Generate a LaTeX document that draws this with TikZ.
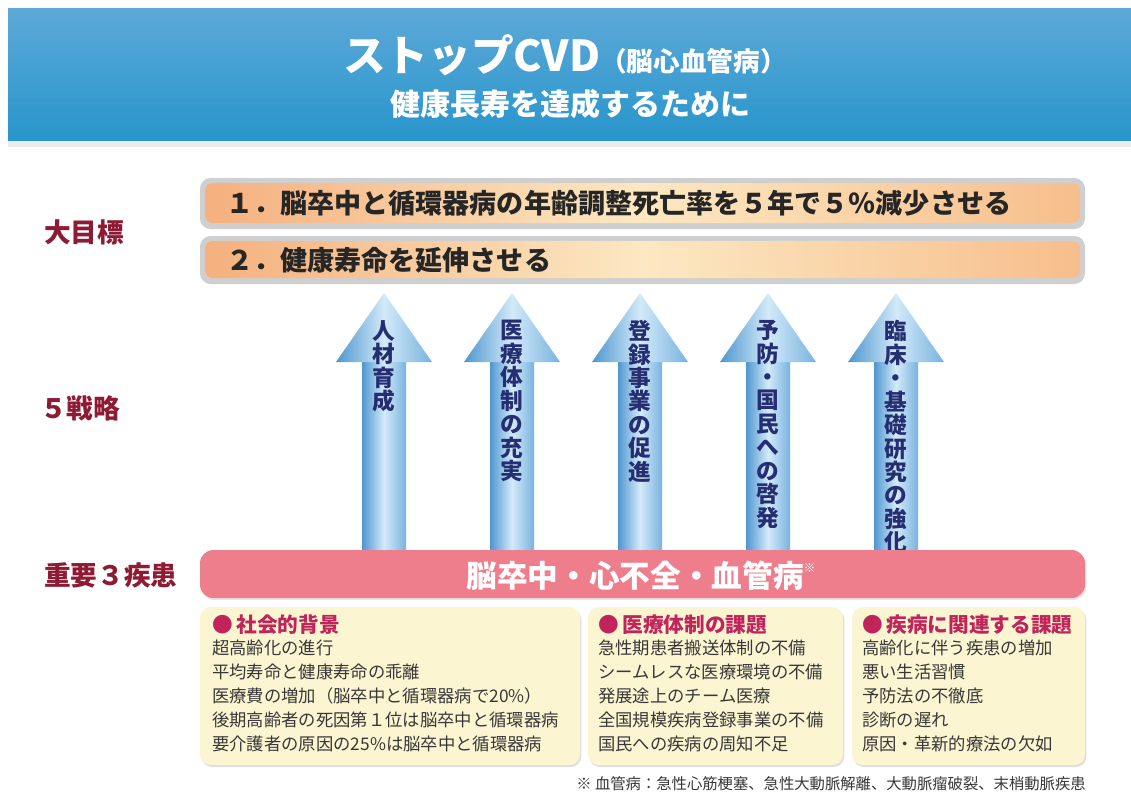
\documentclass[tikz,border=0pt]{standalone}
\usepackage{fontspec}
\setmainfont{Noto Sans CJK JP}
\usetikzlibrary{shadows}
\definecolor{hdtop}{HTML}{5DA9D8}
\definecolor{hdbot}{HTML}{2895CB}
\definecolor{labred}{HTML}{8E1B33}
\definecolor{navy}{HTML}{262E72}
\definecolor{pinkc}{HTML}{EE7E8B}
\definecolor{cream}{HTML}{FCF5D2}
\definecolor{headmag}{HTML}{C0245A}
\definecolor{itemc}{HTML}{383838}
\definecolor{goalgray}{HTML}{CFCFCF}
\definecolor{or1}{HTML}{F5B07E}
\definecolor{or2}{HTML}{FCE8C2}
\definecolor{or3}{HTML}{F7BE8C}
\definecolor{ar1}{HTML}{4F96D0}
\definecolor{ar2}{HTML}{D3EAF9}
\definecolor{ar3}{HTML}{78B3E0}
\begin{document}
\begin{tikzpicture}[x=0.75pt,y=-0.75pt,
  lab/.style={anchor=west,inner sep=0,text=labred,font=\fontsize{20}{22}\selectfont\bfseries},
  goaltxt/.style={anchor=west,inner sep=0,text=black!85,font=\fontsize{20.3}{22}\selectfont\bfseries},
  vtxt/.style={anchor=north,inner sep=0,align=center,text=navy,font=\fontsize{17}{17.6}\selectfont\bfseries},
  boxhead/.style={anchor=west,inner sep=0,text=headmag,font=\fontsize{15.5}{17}\selectfont\bfseries},
  items/.style={anchor=north west,inner sep=0,align=left,text=itemc,font=\fontsize{13}{18}\selectfont},
  crbox/.style={fill=cream,rounded corners=8,drop shadow={opacity=0.25,shadow xshift=1pt,shadow yshift=-1.5pt}}
]
\useasboundingbox (0,0) rectangle (1131,793);
\fill[white] (0,0) rectangle (1131,793);
% header
\fill[black!8] (8,140) rectangle (1131,147);
\shade[top color=hdtop,bottom color=hdbot] (8,8) rectangle (1131,140);
\node[inner sep=0,text=white,font=\fontsize{32}{34}\selectfont\bfseries] (title) at (565,55)
  {ストップCVD{\fontsize{20}{22}\selectfont （脳心血管病）}};
\node[inner sep=0,text=white,font=\fontsize{22.5}{25}\selectfont\bfseries] (sub) at (570,104)
  {健康長寿を達成するために};
% goals
\fill[goalgray,rounded corners=8] (200,178) rectangle (1085,229);
\shade[left color=or1,right color=or3,middle color=or2,rounded corners=6] (205,183) rectangle (1080,223);
\node[goaltxt] (g1) at (226,203) {１．脳卒中と循環器病の年齢調整死亡率を５年で５％減少させる};
\fill[goalgray,rounded corners=8] (200,236) rectangle (1085,284);
\shade[left color=or1,right color=or3,middle color=or2,rounded corners=6] (205,241) rectangle (1080,278);
\node[goaltxt] (g2) at (226,260) {２．健康寿命を延伸させる};
% left labels
\node[lab] (l1) at (44,232) {大目標};
\node[lab] (l2) at (40,408) {５戦略};
\node[lab] (l3) at (44,575) {重要３疾患};
% arrows
\foreach \cx in {384,512,640,768,896}{
  \shade[left color=ar1,right color=ar3,middle color=ar2] (\cx-22,361) rectangle (\cx+22,555);
  \shade[left color=ar1,right color=ar3,middle color=ar2] (\cx-48,362) -- (\cx,293) -- (\cx+48,362) -- cycle;
}
\node[vtxt] (s1) at (384,320) {人\\材\\育\\成};
\node[vtxt] (s2) at (512,320) {医\\療\\体\\制\\の\\充\\実};
\node[vtxt] (s3) at (640,320) {登\\録\\事\\業\\の\\促\\進};
\node[vtxt] (s4) at (768,320) {予\\防\\・\\国\\民\\へ\\の\\啓\\発};
\node[vtxt] (s5) at (896,320) {臨\\床\\・\\基\\礎\\研\\究\\の\\強\\化};
% pink bar
\fill[pinkc,rounded corners=10,drop shadow={opacity=0.2,shadow xshift=1pt,shadow yshift=-1.5pt}] (200,550) rectangle (1085,598);
\node[inner sep=0,text=white,font=\fontsize{23}{25}\selectfont\bfseries] (dis) at (641,576)
  {脳卒中・心不全・血管病\raisebox{0.9ex}{\fontsize{9}{9}\selectfont ※}};
% boxes
\path[crbox] (200,607) rectangle (580,765);
\path[crbox] (588,607) rectangle (843,765);
\path[crbox] (852,607) rectangle (1085,765);
\node[boxhead] (h1) at (212,625) {●\,社会的背景};
\node[items] (i1) at (212,640) {超高齢化の進行\\平均寿命と健康寿命の乖離\\医療費の増加（脳卒中と循環器病で20\%）\\後期高齢者の死因第１位は脳卒中と循環器病\\要介護者の原因の25\%は脳卒中と循環器病};
\node[boxhead] (h2) at (598,625) {●\,医療体制の課題};
\node[items] (i2) at (598,640) {急性期患者搬送体制の不備\\シームレスな医療環境の不備\\発展途上のチーム医療\\全国規模疾病登録事業の不備\\国民への疾病の周知不足};
\node[boxhead] (h3) at (862,625) {●\,疾病に関連する課題};
\node[items] (i3) at (862,640) {高齢化に伴う疾患の増加\\悪い生活習慣\\予防法の不徹底\\診断の遅れ\\原因・革新的療法の欠如};
% footnote
\node[anchor=east,inner sep=0,text=itemc,font=\fontsize{11.5}{13}\selectfont] (fn) at (1086,784)
  {※ 血管病：急性心筋梗塞、急性大動脈解離、大動脈瘤破裂、末梢動脈疾患};
\end{tikzpicture}
\end{document}
